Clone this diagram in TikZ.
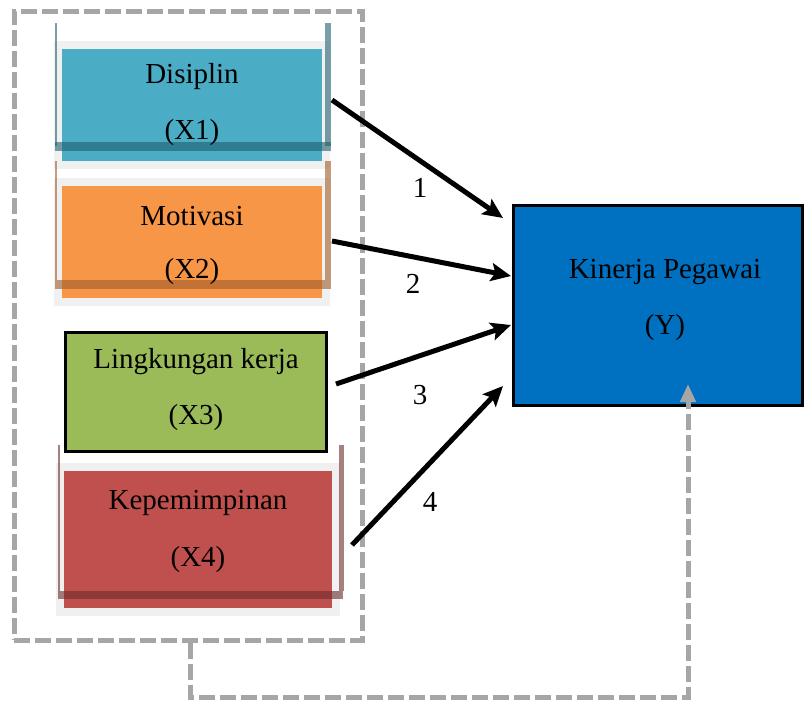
\documentclass[tikz,border=0pt]{standalone}
\usepackage{fontspec}
\setmainfont{Liberation Serif}
\usetikzlibrary{arrows.meta}

\definecolor{cDis}{HTML}{4BACC6}
\definecolor{cDisEdge}{HTML}{1F5F6E}
\definecolor{cMot}{HTML}{F79646}
\definecolor{cMotEdge}{HTML}{A05A28}
\definecolor{cLing}{HTML}{9BBB59}
\definecolor{cKep}{HTML}{C0504D}
\definecolor{cKepEdge}{HTML}{6A2A2A}
\definecolor{cKin}{HTML}{0070C0}
\definecolor{cDash}{HTML}{A6A6A6}
\definecolor{cBack}{HTML}{F0F0F0}

\tikzset{
  txt/.style={font=\fontsize{29}{35}\selectfont, inner sep=0pt},
  panel/.style={draw=none, inner sep=0pt, minimum width=#1},
  backplate/.style={fill=cBack},
  edgeline/.style={opacity=0.6},
  link/.style={line width=5pt, -{Stealth[length=20pt,width=18pt,inset=4pt]}},
  groupbox/.style={draw=cDash, line width=5pt, dash pattern=on 16pt off 5pt},
  feedback/.style={draw=cDash, line width=5pt, dash pattern=on 16pt off 5pt,
    -{Triangle[length=18pt,width=15pt]}},
}

\begin{document}
\begin{tikzpicture}[x=1pt, y=-1pt]
\useasboundingbox (0,0) rectangle (804,702);

% dashed frame around the independent variables
\node[groupbox, minimum width=348pt, minimum height=629pt, inner sep=0pt]
  (grp) at (188,325.5) {};

% ---- X1: Disiplin
\fill[backplate] (54,41) rectangle (330,169);
\node[panel=260pt, fill=cDis, minimum height=112pt] (x1) at (192,105) {};
\draw[cDisEdge, edgeline, line width=2pt] (56,23) -- (56,146);
\draw[cDisEdge, edgeline, line width=6pt] (328,23) -- (328,146);
\fill[cDisEdge, edgeline] (55,142) rectangle (331,151);
\node[txt] (x1a) at (192,77) {Disiplin};
\node[txt] (x1b) at (192,133) {(X1)};

% ---- X2: Motivasi
\fill[backplate] (54,178) rectangle (330,306);
\node[panel=260pt, fill=cMot, minimum height=112pt] (x2) at (192,242) {};
\draw[cMotEdge, edgeline, line width=2pt] (56,161) -- (56,280);
\draw[cMotEdge, edgeline, line width=6pt] (328,161) -- (328,280);
\fill[cMotEdge, edgeline] (55,280) rectangle (331,289);
\node[txt] (x2a) at (192,216) {Motivasi};
\node[txt] (x2b) at (192,272) {(X2)};

% ---- X3: Lingkungan kerja
\node[panel=261pt, fill=cLing, draw=black, line width=3pt, minimum height=119pt]
  (x3) at (195.5,391.5) {};
\node[txt] (x3a) at (196,362) {Lingkungan kerja};
\node[txt] (x3b) at (196,418) {(X3)};

% ---- X4: Kepemimpinan
\fill[backplate] (56,463) rectangle (340,616);
\node[panel=268pt, fill=cKep, minimum height=137pt] (x4) at (198,539.5) {};
\draw[cKepEdge, edgeline, line width=2pt] (59,445) -- (59,591);
\draw[cKepEdge, edgeline, line width=5pt] (341,445) -- (341,591);
\fill[cKepEdge, edgeline] (58,591) rectangle (343,599);
\node[txt] (x4a) at (198,503) {Kepemimpinan};
\node[txt] (x4b) at (198,560) {(X4)};

% ---- Y: Kinerja Pegawai
\node[panel=289pt, fill=cKin, draw=black, line width=3pt, minimum height=200pt]
  (ky) at (657.5,305) {};
\node[txt] (kya) at (665,272) {Kinerja Pegawai};
\node[txt] (kyb) at (665,328) {(Y)};

% ---- arrow end points
\coordinate (s1) at (332,100);
\coordinate (e1) at (503,218);
\coordinate (s2) at (332,241);
\coordinate (e2) at (511,276);
\coordinate (s3) at (336,384);
\coordinate (e3) at (511,325);
\coordinate (s4) at (352,545);
\coordinate (e4) at (503,386);

\draw[link] (s1) -- (e1);
\draw[link] (s2) -- (e2);
\draw[link] (s3) -- (e3);
\draw[link] (s4) -- (e4);

\node[txt] (n1) at (420,188) {1};
\node[txt] (n2) at (413,284) {2};
\node[txt] (n3) at (420,395) {3};
\node[txt] (n4) at (430,502) {4};

% ---- simultaneous effect: dashed return path into Y
\coordinate (fbs) at (190,643);
\coordinate (fbc) at (688,697);
\draw[feedback] (fbs) |- (fbc) -- (fbc |- 0,384);

\end{tikzpicture}
\end{document}
